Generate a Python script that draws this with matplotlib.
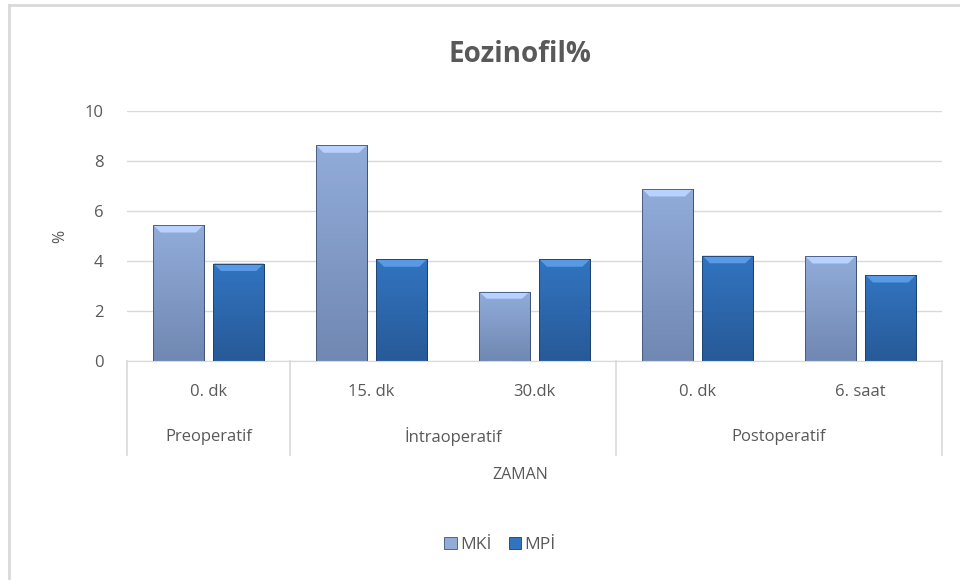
import numpy as np
import matplotlib.pyplot as plt
from matplotlib.patches import Patch
from matplotlib.lines import Line2D

# data
time_labels = ['0. dk', '15. dk', '30.dk', '0. dk', '6. saat']
phase_labels = ['Preoperatif', 'İntraoperatif', 'Postoperatif']
phase_sizes = [1, 2, 2]
mki_values = [5.44, 8.63, 2.77, 6.88, 4.20]
mpi_values = [3.90, 4.07, 4.07, 4.21, 3.44]
series_names = ['MKİ', 'MPİ']

text_color = '#595959'
grid_color = '#D9D9D9'
mki_colors = ('#92ACDA', '#7088B2')  # top, bottom of gradient
mpi_colors = ('#3274C0', '#275A98')

plt.rcParams['font.family'] = ['Open Sans', 'DejaVu Sans']

fig = plt.figure(figsize=(9.6, 5.8), dpi=100)
ax = fig.add_axes([127 / 960, 1 - 361 / 580, 815 / 960, 250 / 580])

x = np.arange(len(time_labels))
width = 0.31
gap = 0.06
bars_mki = ax.bar(x - (width + gap) / 2, mki_values, width, color=mki_colors[1],
                  edgecolor='#3F5277', linewidth=0.6, zorder=2)
bars_mpi = ax.bar(x + (width + gap) / 2, mpi_values, width, color=mpi_colors[1],
                  edgecolor='#1B3E6A', linewidth=0.6, zorder=2)


def shade_bars(bars, colors):
    # vertical gradient inside each bar, plus a lighter bevel cap on top
    top_rgb = np.array(plt.matplotlib.colors.to_rgb(colors[0]))
    bot_rgb = np.array(plt.matplotlib.colors.to_rgb(colors[1]))
    t = np.linspace(0, 1, 64)[:, None]
    grad = (top_rgb * (1 - t) + bot_rgb * t)[:, None, :]
    grad = np.repeat(grad, 2, axis=1)
    for b in bars:
        x0, y0 = b.get_x(), b.get_y()
        w, h = b.get_width(), b.get_height()
        im = ax.imshow(grad, extent=[x0, x0 + w, y0, y0 + h], aspect='auto',
                       zorder=2.5, origin='upper')
        im.set_clip_path(b)
        cap = min(0.3, h * 0.1)
        ax.fill([x0, x0 + w, x0 + w * 0.85, x0 + w * 0.15],
                [y0 + h, y0 + h, y0 + h - cap, y0 + h - cap],
                color=np.clip(top_rgb + 0.15, 0, 1), lw=0, zorder=2.6)
        ax.add_patch(plt.Rectangle((x0, y0), w, h, fill=False,
                                   edgecolor=b.get_edgecolor(), lw=0.6, zorder=2.7))


shade_bars(bars_mki, mki_colors)
shade_bars(bars_mpi, mpi_colors)

ax.set_xlim(-0.5, len(time_labels) - 0.5)
ax.set_ylim(0, 10)
ax.set_yticks([0, 2, 4, 6, 8, 10])
ax.yaxis.grid(True, color=grid_color, linewidth=1)
ax.set_axisbelow(True)
for side in ['top', 'right', 'left']:
    ax.spines[side].set_visible(False)
ax.spines['bottom'].set_color(grid_color)
ax.tick_params(axis='y', length=0, pad=17, labelsize=12, labelcolor=text_color)
ax.tick_params(axis='x', length=0, labelbottom=False)
fig.text(60 / 960, 1 - 236 / 580, '%', rotation=90, ha='center', va='center',
         fontsize=11.5, color=text_color)

# multi-level category axis
xt = ax.get_xaxis_transform()
for i, lab in enumerate(time_labels):
    ax.text(i, -0.124, lab, transform=xt, ha='center', va='center',
            fontsize=12, color=text_color)
start = -0.5
bounds = [start]
for name, n in zip(phase_labels, phase_sizes):
    ax.text(start + n / 2, -0.304, name, transform=xt, ha='center', va='center',
            fontsize=12, color=text_color)
    start += n
    bounds.append(start)
for b in bounds:
    ax.add_line(Line2D([b, b], [0, -0.376], transform=xt, color=grid_color,
                       lw=1.2, clip_on=False))

fig.text(520 / 960, 1 - 475 / 580, 'ZAMAN', ha='center', va='center',
         fontsize=11.5, color=text_color)
fig.text(520 / 960, 1 - 55 / 580, 'Eozinofil%', ha='center', va='center',
         fontsize=20, fontweight='bold', color=text_color)

handles = [Patch(facecolor=mki_colors[0], edgecolor='#3F5277', lw=0.6),
           Patch(facecolor=mpi_colors[0], edgecolor='#1B3E6A', lw=0.6)]
fig.legend(handles, series_names, loc='center', bbox_to_anchor=(500 / 960, 1 - 545 / 580),
           ncol=2, frameon=False, fontsize=12.5, handlelength=0.7, handleheight=0.7,
           handletextpad=0.2, columnspacing=1.0, labelcolor=text_color)

# chart area border (left and top visible in the reference)
fig.add_artist(Line2D([9 / 960, 9 / 960], [0, 1 - 5 / 580], color=grid_color, lw=2))
fig.add_artist(Line2D([9 / 960, 1], [1 - 5 / 580, 1 - 5 / 580], color=grid_color, lw=2))

fig.savefig('out.png', dpi=100)
